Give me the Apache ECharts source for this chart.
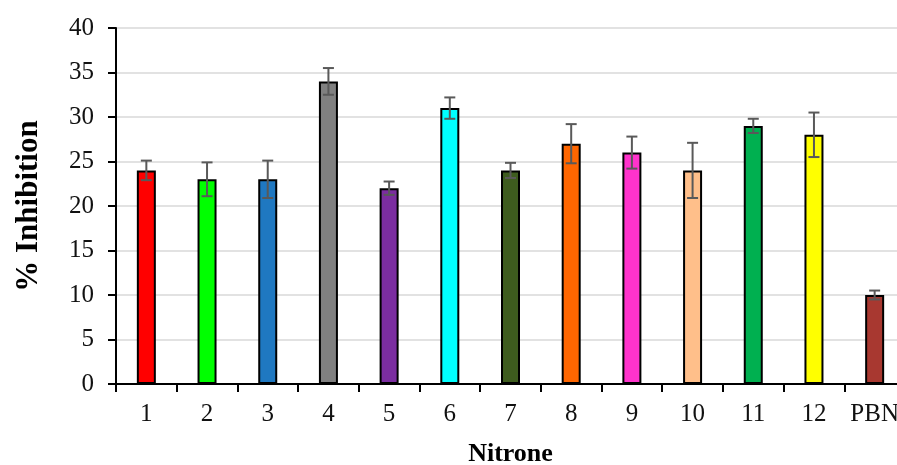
<!DOCTYPE html>
<html>
<head>
<meta charset="utf-8">
<script src="https://cdn.jsdelivr.net/npm/echarts@6/dist/echarts.min.js"></script>
<style>
html,body{margin:0;padding:0;background:#fff;}
#chart{width:897px;height:465px;}
</style>
</head>
<body>
<div id="chart"></div>
<script>
var categories = ['1','2','3','4','5','6','7','8','9','10','11','12','PBN'];
var values = [24, 23, 23, 34, 22, 31, 24, 27, 26, 24, 29, 28, 10];
var errors = [1.1, 1.9, 2.1, 1.5, 0.75, 1.2, 0.85, 2.2, 1.8, 3.1, 0.8, 2.5, 0.5];
var colors = ['#FF0000','#00FF00','#1F78C1','#808080','#7B2DA0','#00FFFF','#3E5C1E','#FF6600','#FF33CC','#FFBF8A','#00B050','#FFFF00','#A83830'];
var yTicks = [0, 5, 10, 15, 20, 25, 30, 35, 40];

var font = '"Liberation Serif", "Times New Roman", serif';
var chart = echarts.init(document.getElementById('chart'));

var barData = values.map(function(v, i){
  return {value: v, itemStyle: {color: colors[i]}};
});
var errData = values.map(function(v, i){
  return [i, v - errors[i], v + errors[i]];
});

chart.setOption({
  animation: false,
  grid: {left: 116, top: 28, width: 789, height: 356, containLabel: false, outerBoundsMode: 'none'},
  xAxis: {
    type: 'category',
    data: categories,
    boundaryGap: true,
    name: 'Nitrone',
    nameLocation: 'middle',
    nameGap: 57,
    nameTextStyle: {fontFamily: font, fontSize: 26, fontWeight: 'bold', color: '#000'},
    axisLine: {lineStyle: {color: '#000', width: 2}},
    axisTick: {show: true, interval: 0, length: 8, lineStyle: {color: '#000', width: 2}},
    axisLabel: {fontFamily: font, fontSize: 25, color: '#111', margin: 18, interval: 0}
  },
  yAxis: {
    type: 'value',
    min: yTicks[0],
    max: yTicks[yTicks.length - 1],
    interval: 5,
    name: '% Inhibition',
    nameLocation: 'middle',
    nameGap: 72,
    nameRotate: 90,
    nameTextStyle: {fontFamily: font, fontSize: 31, fontWeight: 'bold', color: '#000'},
    axisLine: {show: true, lineStyle: {color: '#000', width: 2}},
    axisTick: {show: true, length: 8, lineStyle: {color: '#000', width: 2}},
    axisLabel: {fontFamily: font, fontSize: 25, color: '#111', margin: 22},
    splitLine: {show: true, lineStyle: {color: '#D9D9D9', width: 1.5}}
  },
  series: [
    {
      type: 'bar',
      data: barData,
      barWidth: 19,
      itemStyle: {borderColor: '#000', borderWidth: 2}
    },
    {
      type: 'custom',
      data: errData,
      z: 10,
      renderItem: function(params, api){
        var x = api.value(0);
        var lo = api.coord([x, api.value(1)]);
        var hi = api.coord([x, api.value(2)]);
        var hw = 5.5;
        var style = {stroke: '#595959', lineWidth: 2};
        return {
          type: 'group',
          children: [
            {type: 'line', shape: {x1: lo[0], y1: lo[1], x2: hi[0], y2: hi[1]}, style: style},
            {type: 'line', shape: {x1: lo[0]-hw, y1: lo[1], x2: lo[0]+hw, y2: lo[1]}, style: style},
            {type: 'line', shape: {x1: hi[0]-hw, y1: hi[1], x2: hi[0]+hw, y2: hi[1]}, style: style}
          ]
        };
      }
    }
  ]
});
</script>
</body>
</html>
